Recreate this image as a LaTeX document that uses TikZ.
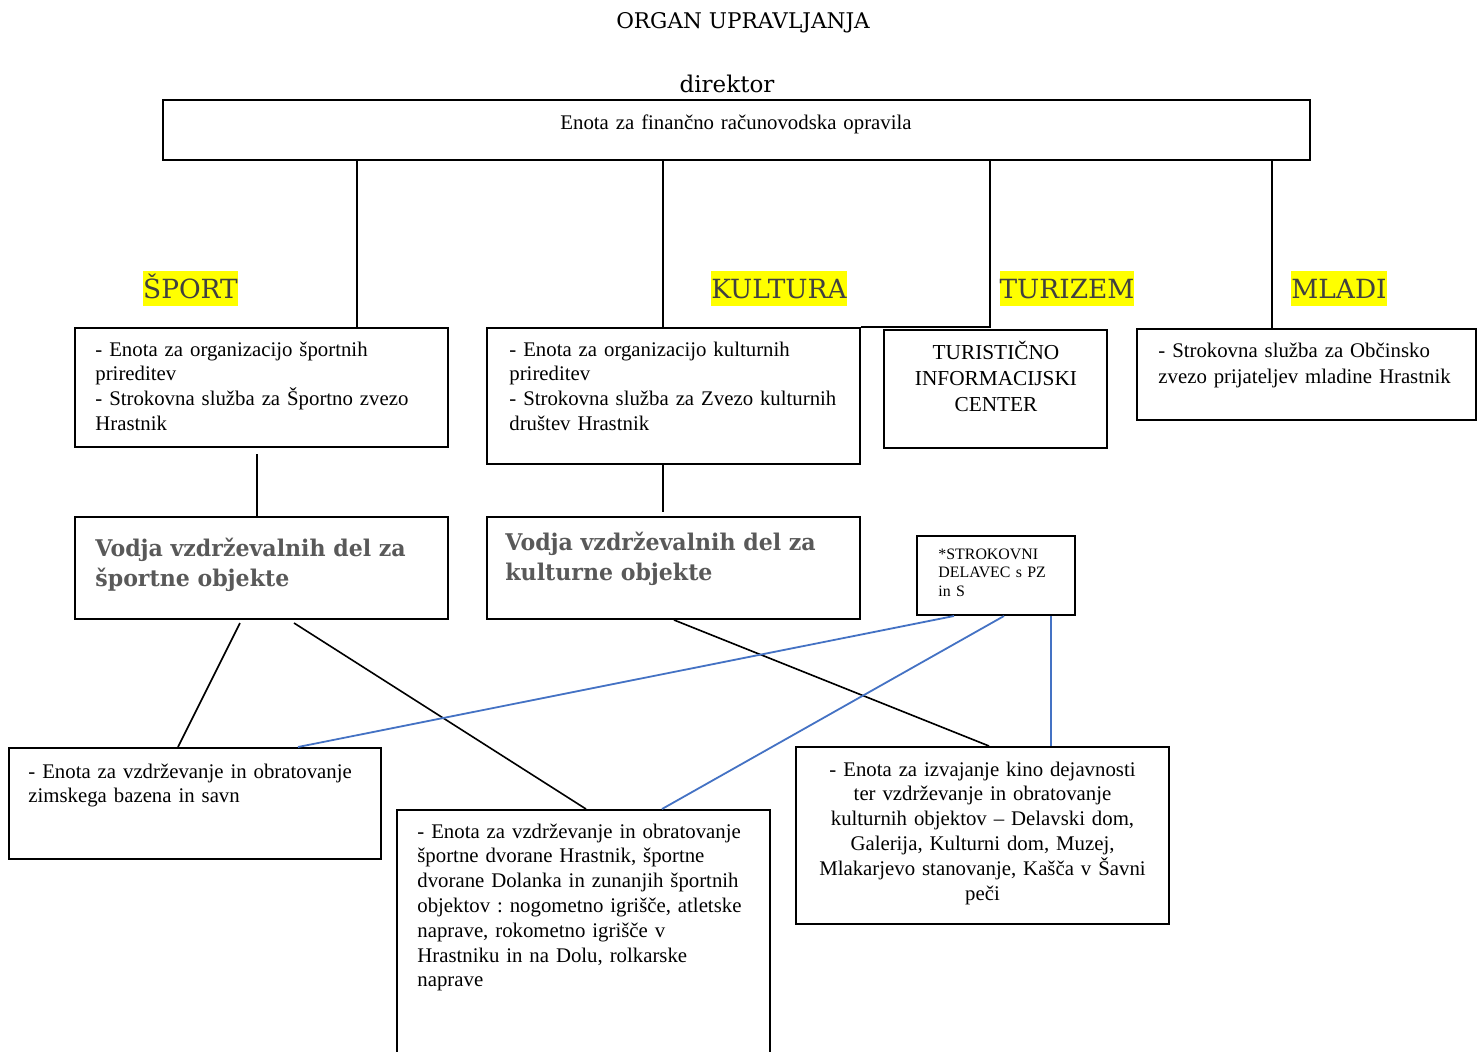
\documentclass[tikz,border=0pt]{standalone}
\usepackage{fontspec}
\setmainfont{Liberation Serif}
\newfontfamily\hfont{DejaVu Serif}
\newfontfamily\vfont{DejaVu Serif}[FakeStretch=0.96]
\usetikzlibrary{calc}
\definecolor{hgray}{RGB}{64,64,64}
\definecolor{vgray}{RGB}{89,89,89}
\definecolor{lblue}{RGB}{68,114,196}
\definecolor{hlyellow}{RGB}{255,255,0}
\tikzset{
  box/.style={draw, line width=1pt, inner sep=0pt},
  txt/.style={inner sep=0pt, text width=#1, align=left, anchor=base west,
    font=\fontsize{10.4pt}{12.4pt}\selectfont},
  txt/.default=180pt,
  ctxt/.style={inner sep=0pt, text width=#1, align=center, anchor=base,
    font=\fontsize{10.4pt}{12.4pt}\selectfont},
  ctxt/.default=180pt,
  vtxt/.style={inner sep=0pt, text width=180pt, align=left, anchor=base west,
    text=vgray, font=\vfont\bfseries\fontsize{11.5pt}{15pt}\selectfont},
  hl/.style={fill=hlyellow, text=hgray, inner xsep=0pt, inner ysep=0pt,
    text height=9.6pt, text depth=0pt, minimum height=17.5pt,
    font=\hfont\fontsize{13.2pt}{15pt}\selectfont},
  conn/.style={line width=0.8pt},
  bconn/.style={draw=lblue, line width=0.9pt},
}
\begin{document}
\frenchspacing
\begin{tikzpicture}[x=0.5pt,y=-0.5pt]
\fill[white] (0,0) rectangle (1484,1051);
\clip (0,0) rectangle (1484,1051);

% titles
\node[inner sep=0pt, font=\hfont\fontsize{10.8pt}{13pt}\selectfont] (title) at (743,23) {ORGAN UPRAVLJANJA};
\node[inner sep=0pt, font=\hfont\fontsize{11.5pt}{13pt}\selectfont] (direktor) at (727,84) {direktor};

% boxes
\node[box, line width=1.2pt, minimum width=573.5pt, minimum height=30pt] (top) at (736.5,130) {};
\node[box, minimum width=186.5pt, minimum height=59.5pt] (sport) at (261.5,387.5) {};
\node[box, minimum width=186.5pt, minimum height=68pt] (kult) at (673.5,396) {};
\node[box, minimum width=111.5pt, minimum height=59pt] (tic) at (995.5,389) {};
\node[box, minimum width=169.5pt, minimum height=45.5pt] (mladi) at (1306.5,374.5) {};
\node[box, minimum width=186.5pt, minimum height=51pt] (vsport) at (261.5,568) {};
\node[box, minimum width=186.5pt, minimum height=51pt] (vkult) at (673.5,568) {};
\node[box, minimum width=79pt, minimum height=39.5pt] (strok) at (996,575.5) {};
\node[box, minimum width=186pt, minimum height=55.5pt] (bazen) at (195,803.5) {};
\node[box, minimum width=186.5pt, minimum height=130pt] (dvor) at (583.5,940) {};
\node[box, minimum width=186.5pt, minimum height=88.5pt] (kino) at (982.5,835.5) {};

% category labels
\node[hl] (lsport) at (190.5,288.5) {ŠPORT};
\node[hl] (lkult) at (779,288.5) {KULTURA};
\node[hl] (lturizem) at (1067,288.5) {TURIZEM};
\node[hl] (lmladi) at (1339,288.5) {MLADI};

% texts
\node[ctxt=400pt] (ttop) at (736,129) {Enota za finančno računovodska opravila};
\node[txt] (tsport) at (95,356) {- Enota za organizacijo športnih\\prireditev\\- Strokovna služba za Športno zvezo\\Hrastnik};
\node[txt] (tkult) at (509,356) {- Enota za organizacijo kulturnih\\prireditev\\- Strokovna služba za Zvezo kulturnih\\društev Hrastnik};
\node[ctxt=105pt, font=\fontsize{10.65pt}{13pt}\selectfont] (ttic) at (996,359) {TURISTIČNO\\INFORMACIJSKI\\CENTER};
\node[txt=170pt, font=\fontsize{10.4pt}{13pt}\selectfont] (tmladi) at (1158,357) {- Strokovna služba za Občinsko\\zvezo prijateljev mladine Hrastnik};
\node[vtxt] (tvsport) at (95,556) {Vodja vzdrževalnih del za\\športne objekte};
\node[vtxt] (tvkult) at (505,550) {Vodja vzdrževalnih del za\\kulturne objekte};
\node[txt=75pt, font=\fontsize{7.95pt}{9.25pt}\selectfont] (tstrok) at (938,559) {*STROKOVNI\\DELAVEC s PZ\\in S};
\node[txt] (tbazen) at (28,778) {- Enota za vzdrževanje in obratovanje\\zimskega bazena in savn};
\node[txt] (tdvor) at (417,838) {- Enota za vzdrževanje in obratovanje\\športne dvorane Hrastnik, športne\\dvorane Dolanka in zunanjih športnih\\objektov : nogometno igrišče, atletske\\naprave, rokometno igrišče v\\Hrastniku in na Dolu, rolkarske\\naprave};
\node[ctxt] (tkino) at (982.5,776) {- Enota za izvajanje kino dejavnosti\\ter vzdrževanje in obratovanje\\kulturnih objektov – Delavski dom,\\Galerija, Kulturni dom, Muzej,\\Mlakarjevo stanovanje, Kašča v Šavni\\peči};

% helper x positions
\coordinate (xa) at (357,0);
\coordinate (xb) at (663,0);
\coordinate (xc) at (990,0);
\coordinate (xd) at (1272,0);
\coordinate (xe) at (257,0);

% black connectors
\draw[conn] (top.south -| xa) -- (sport.north -| xa);
\draw[conn] (top.south -| xb) -- (kult.north -| xb);
\draw[conn] (top.south -| xc) |- (kult.north east);
\draw[conn] (top.south -| xd) -- (mladi.north -| xd);
\draw[conn] ([yshift=-3pt]sport.south -| xe) -- (vsport.north -| xe);
\draw[conn] (kult.south -| xb) -- ([yshift=2pt]vkult.north -| xb);
\draw[conn] ([xshift=83pt,yshift=-1.5pt]vsport.south west) -- ([xshift=85pt]bazen.north west);
\draw[conn] ([xshift=110pt,yshift=-1.5pt]vsport.south west) -- ([xshift=95pt]dvor.north west);
\draw[conn] ([xshift=94pt]vkult.south west) -- ([xshift=97pt]kino.north west);

% blue connectors
\draw[bconn] ([xshift=19pt]strok.south west) -- ([xshift=145pt]bazen.north west);
\draw[bconn] ([xshift=44pt]strok.south west) -- ([xshift=133pt]dvor.north west);
\draw[bconn] ([xshift=67.5pt]strok.south west) -- ([xshift=128pt]kino.north west);
\end{tikzpicture}
\end{document}
